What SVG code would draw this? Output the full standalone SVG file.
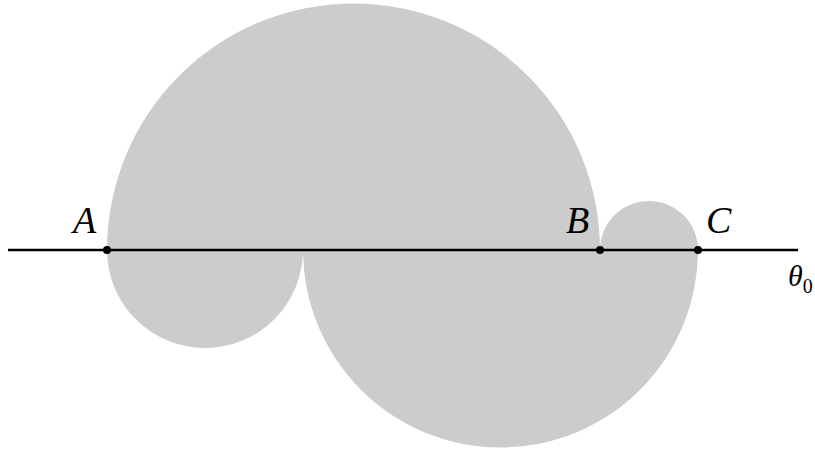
<svg xmlns="http://www.w3.org/2000/svg" width="815" height="450" viewBox="0 0 815 450">
<style>
.lbl{font-family:'Liberation Serif','DejaVu Serif',serif;font-style:italic;fill:#000}
.pt{fill:#000}
</style>
<rect width="815" height="450" fill="#fff"/>
<g id="region">
<path d="M107,250 A246.5,246.5 0 0 1 600,250 A49,49 0 0 1 698,250 A197.5,197.5 0 0 1 303,250 A98,98 0 0 1 107,250 Z" fill="#cccccc"/>
</g>
<g id="connectors">
<line x1="8" y1="250" x2="798" y2="250" stroke="#000" stroke-width="2.5"/>
</g>
<g id="A"><circle class="pt" cx="107" cy="250" r="4"/><text class="lbl" x="73" y="233" font-size="38">A</text></g>
<g id="B"><circle class="pt" cx="600" cy="250" r="4"/><text class="lbl" x="566" y="233" font-size="38">B</text></g>
<g id="C"><circle class="pt" cx="698" cy="250" r="4"/><text class="lbl" x="706" y="233" font-size="38">C</text></g>
<g id="theta"><text class="lbl" x="788" y="286" font-size="30">θ<tspan font-style="normal" font-size="20" dy="7">0</tspan></text></g>
</svg>
